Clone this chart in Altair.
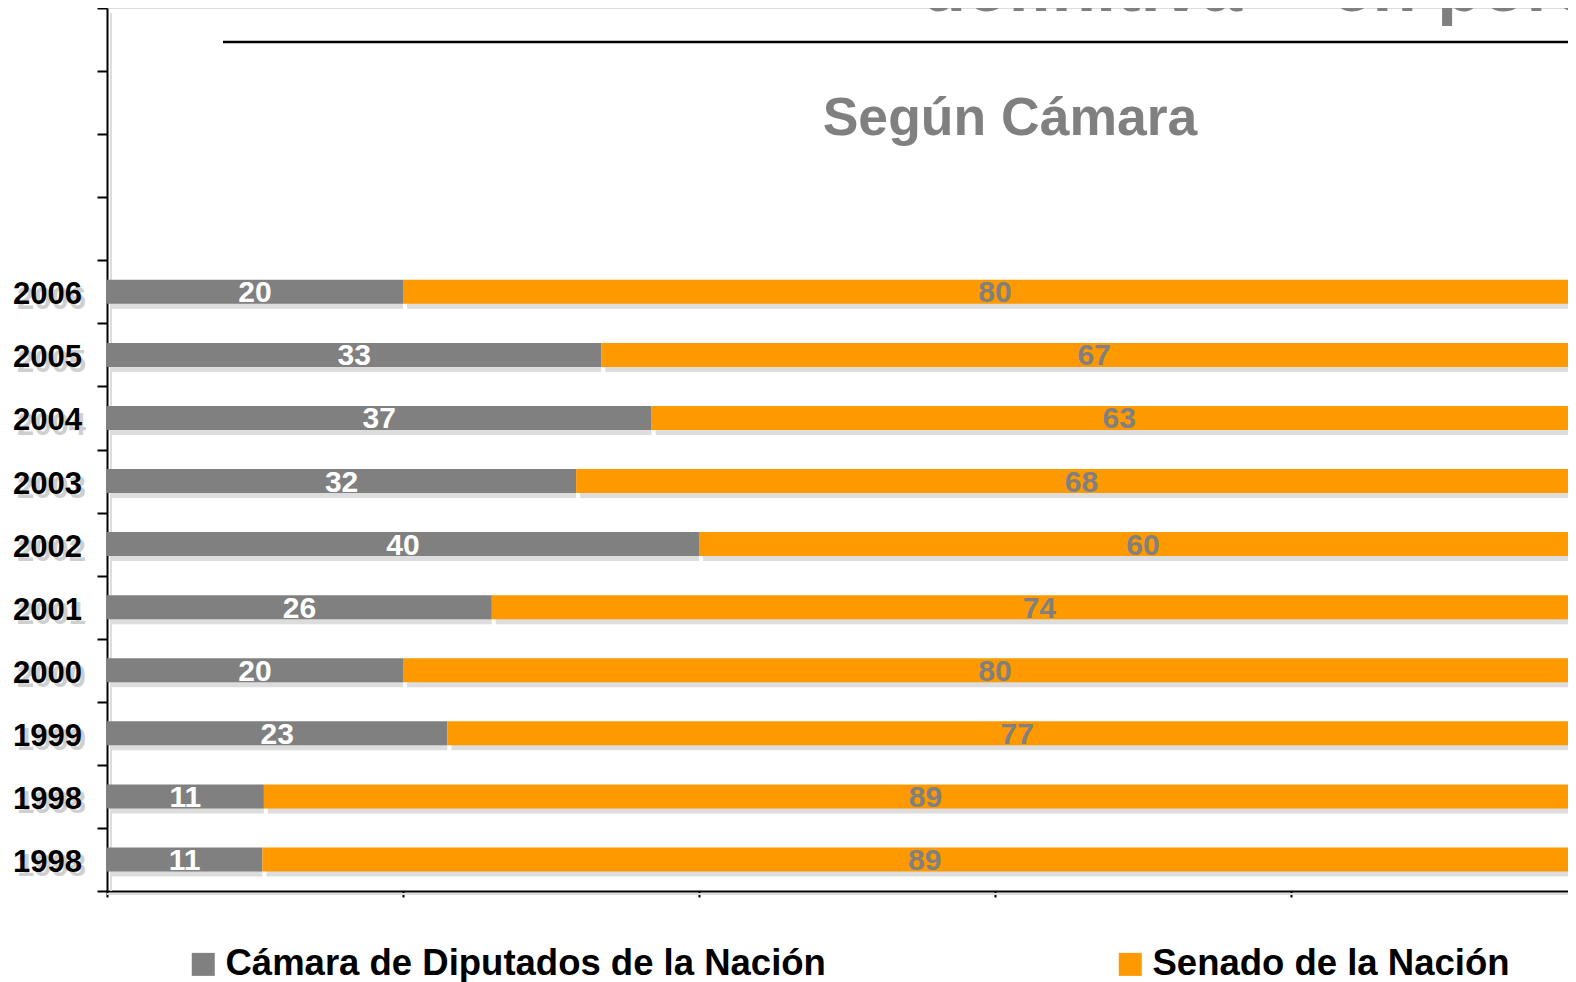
import altair as alt
import pandas as pd

# ---- data ----
years = ["2006", "2005", "2004", "2003", "2002", "2001", "2000", "1999", "1998", "1998"]
diputados = [20, 33.4, 36.8, 31.7, 40, 26, 20, 23, 10.6, 10.5]
senado = [80, 66.6, 63.2, 68.3, 60, 74, 80, 77, 89.4, 89.5]
dip_labels = [20, 33, 37, 32, 40, 26, 20, 23, 11, 11]
sen_labels = [80, 67, 63, 68, 60, 74, 80, 77, 89, 89]
series = ["Cámara de Diputados de la Nación", "Senado de la Nación"]
colors = ["#808080", "#FF9900"]
x_ticks = [0, 20, 40, 60, 80]

title_top = '"definitiva" "en porcentaje"'
subtitle = "Según Cámara"

FONT = "Liberation Sans"
W, H = 1461, 883
X_MAX = 98.72  # visible part of the 0-100 axis (chart is cropped on the right)

blank_keys = ["e1", "e2", "e3", "e4"]
keys = [f"r{i}" for i in range(len(years))]
domain_keys = blank_keys + keys

rows = []
for i, k in enumerate(keys):
    rows.append({"key": k, "year": years[i], "camara": series[0], "ord": 0,
                 "value": diputados[i], "lab": str(dip_labels[i])})
    rows.append({"key": k, "year": years[i], "camara": series[1], "ord": 1,
                 "value": senado[i], "lab": str(sen_labels[i])})
df = pd.DataFrame(rows)
df_years = pd.DataFrame({"key": keys, "year": years})
one = pd.DataFrame({"a": [0]})

xscale = alt.Scale(domain=[0, X_MAX], clamp=True, nice=False, zero=True)
yscale = alt.Scale(domain=domain_keys, paddingInner=0, paddingOuter=0)

xaxis = alt.Axis(values=x_ticks, labels=False, title=None, grid=False,
                 domainColor="black", domainWidth=2, tickColor="black",
                 tickWidth=2, tickSize=6)
yaxis = alt.Axis(labels=False, title=None, grid=False, domainColor="black",
                 domainWidth=2, tickColor="black", tickWidth=2, tickSize=10,
                 tickBand="extent")

base = alt.Chart(df).transform_stack(
    stack="value", groupby=["key"], as_=["x0", "x1"],
    sort=[alt.SortField("ord", order="ascending")]
).transform_calculate(mid="(datum.x0 + datum.x1) / 2")

shadow = base.mark_bar(color="#dddddd", size=24, xOffset=4, yOffset=5).encode(
    x=alt.X("x0:Q", scale=xscale, axis=xaxis),
    x2="x1:Q",
    y=alt.Y("key:N", scale=yscale, axis=yaxis),
)

bars = base.mark_bar(size=24).encode(
    x=alt.X("x0:Q", scale=xscale, axis=xaxis),
    x2="x1:Q",
    y=alt.Y("key:N", scale=yscale, axis=yaxis),
    color=alt.Color("camara:N", scale=alt.Scale(domain=series, range=colors),
                    legend=alt.Legend(orient="none", legendX=78, legendY=938,
                                      direction="horizontal", title=None,
                                      symbolType="square", symbolSize=529,
                                      symbolStrokeWidth=0, symbolOpacity=1,
                                      labelFont=FONT, labelFontSize=36.5,
                                      labelFontWeight="bold", labelColor="black",
                                      labelLimit=2000, labelOffset=4,
                                      columnPadding=286, padding=0)),
)

value_text = base.mark_text(font=FONT, fontSize=30, fontWeight="bold",
                            baseline="alphabetic", dy=10.5).encode(
    x=alt.X("mid:Q", scale=xscale),
    y=alt.Y("key:N", scale=yscale),
    text="lab:N",
    color=alt.condition(alt.datum.ord == 0, alt.value("white"), alt.value("#808080")),
)

year_shadow = alt.Chart(df_years).mark_text(
    font=FONT, fontSize=31, fontWeight="bold", align="right",
    baseline="alphabetic", dy=17, dx=4, color="#cfcfcf").encode(
    x=alt.value(-25), y=alt.Y("key:N", scale=yscale), text="year:N")

year_text = alt.Chart(df_years).mark_text(
    font=FONT, fontSize=31, fontWeight="bold", align="right",
    baseline="alphabetic", dy=12.5, color="black").encode(
    x=alt.value(-25), y=alt.Y("key:N", scale=yscale), text="year:N")

vshadow = alt.Chart(one).mark_rule(color="#dddddd", strokeWidth=2, xOffset=4, yOffset=5).encode(
    x=alt.datum(0, scale=xscale))
hshadow = alt.Chart(one).mark_rule(color="#dddddd", strokeWidth=2, xOffset=4).encode(
    y=alt.value(H + 3))

top_line = alt.Chart(one).mark_rule(color="black", strokeWidth=2.5).encode(
    x=alt.value(116), x2=alt.value(W), y=alt.value(34))

top_title = alt.Chart(one).mark_text(
    font=FONT, fontSize=73, fontWeight="bold", color="#808080", align="left",
    baseline="alphabetic").encode(x=alt.value(780), y=alt.value(3), text=alt.value(title_top))

sub = alt.Chart(one).mark_text(
    font=FONT, fontSize=53.5, fontWeight="bold", color="#808080", align="center",
    baseline="alphabetic").encode(x=alt.value(903), y=alt.value(127), text=alt.value(subtitle))

chart = alt.layer(
    vshadow, hshadow, shadow, bars, value_text, year_shadow, year_text,
    top_line, top_title, sub
).properties(
    width=W, height=H,
    autosize=alt.AutoSizeParams(type="none"),
    padding={"left": 99, "top": 0, "right": 0, "bottom": 91},
).configure_view(stroke=None).configure(background="white")

chart.save("out.html", embed_options={"renderer": "svg", "actions": False})
